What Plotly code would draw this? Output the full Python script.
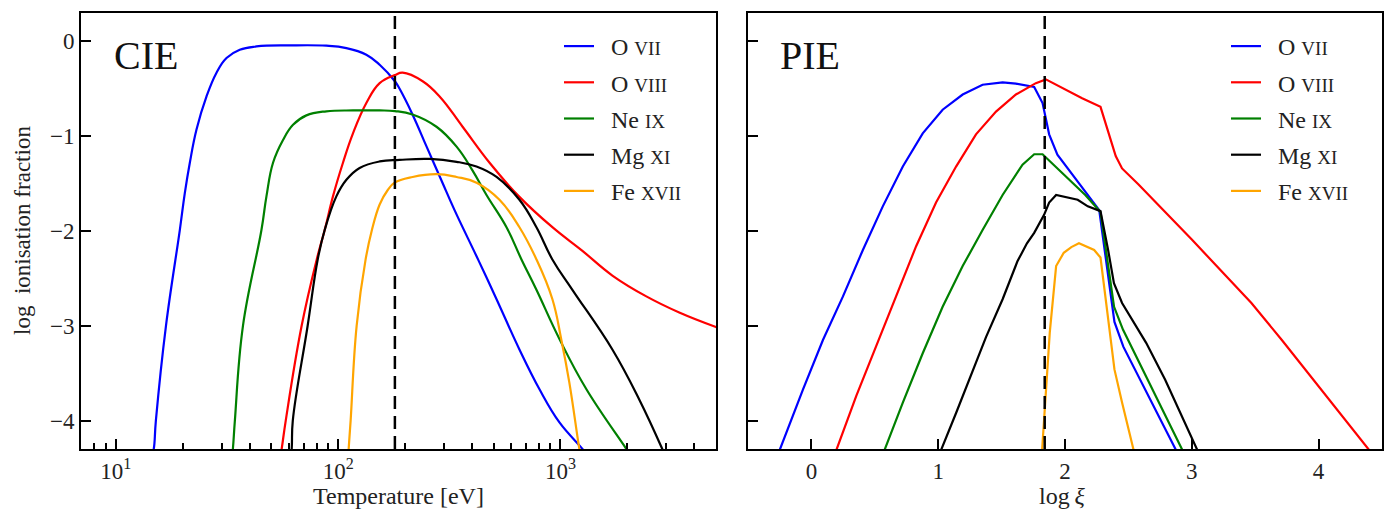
import plotly.graph_objects as go

# ---------------- CIE: ionisation fraction versus temperature ----------------
cie_o7_T = [14.5, 14.8, 15.13, 16.8, 19.39, 20.42, 21.51, 23.05, 25.57, 28.36, 31.45, 36.09, 42.9, 60.5,
            88.5, 108.9, 133.9, 153.7, 180, 189, 216, 250, 292, 334, 428, 516, 654, 805, 990, 1256, 1290]
cie_o7_y = [-4.37, -4.3, -4.0, -3.0, -1.99, -1.6, -1.28, -0.93, -0.58, -0.33, -0.175, -0.088, -0.053, -0.042,
            -0.045, -0.07, -0.14, -0.246, -0.42, -0.50, -0.77, -1.11, -1.47, -1.78, -2.31, -2.72, -3.25,
            -3.67, -4.02, -4.3, -4.34]

cie_o8_T = [54.0, 55.7, 58.1, 68.5, 80.1, 86.98, 94.76, 105.1, 116.6, 133.9, 153.7, 180, 195, 240, 286, 363,
            480, 654, 920, 1256, 1713, 2435, 3425, 4973, 5600]
cie_o8_y = [-4.5, -4.3, -4.0, -3.0, -2.3, -1.99, -1.635, -1.28, -0.97, -0.65, -0.44, -0.355, -0.33, -0.42,
            -0.58, -0.90, -1.28, -1.64, -1.96, -2.21, -2.47, -2.69, -2.86, -3.01, -3.05]

cie_ne9_T = [32.9, 33.6, 34.3, 37.3, 45.17, 47.57, 50.93, 56.48, 62.65, 71.96, 88.5, 116.6, 153.7, 180, 216,
             277, 341, 402, 465, 572, 668, 780, 990, 1309, 1980, 2110]
cie_ne9_y = [-4.5, -4.3, -4.0, -3.0, -1.99, -1.635, -1.28, -1.04, -0.88, -0.78, -0.737, -0.728, -0.728,
             -0.735, -0.77, -0.90, -1.11, -1.36, -1.62, -1.96, -2.30, -2.62, -3.14, -3.67, -4.3, -4.4]

cie_mg11_T = [60.5, 61.8, 62.5, 72.9, 80.9, 86.98, 98.15, 108.9, 124.9, 153.7, 189, 258, 341, 419, 516,
              654, 780, 920, 1132, 1713, 2265, 2873, 2995]
cie_mg11_y = [-4.5, -4.3, -4.0, -3.0, -2.3, -1.99, -1.635, -1.46, -1.335, -1.266, -1.25, -1.24, -1.27,
              -1.32, -1.43, -1.67, -1.96, -2.30, -2.62, -3.25, -3.78, -4.3, -4.4]

cie_fe17_T = [110.9, 111.5, 113.8, 121.1, 132.9, 141.5, 153.7, 166.9, 179.5, 216.2, 277.2, 341.0, 419.4,
              531.9, 654.2, 780.2, 920.4, 1010, 1097, 1217, 1240]
cie_fe17_y = [-4.4, -4.3, -4.0, -3.0, -2.3, -2.0, -1.72, -1.57, -1.49, -1.43, -1.40, -1.43, -1.49, -1.67,
              -1.96, -2.30, -2.72, -3.15, -3.6, -4.3, -4.4]

# ---------------- PIE: ionisation fraction versus log xi ----------------
pie_o7_x = [-0.27, -0.25, -0.066, 0.091, 0.249, 0.406, 0.563, 0.721, 0.878, 1.035, 1.193, 1.35, 1.508,
            1.613, 1.757, 1.823, 1.875, 1.94, 2.27, 2.39, 2.46, 2.87, 2.89]
pie_o7_y = [-4.37, -4.31, -3.67, -3.15, -2.69, -2.20, -1.74, -1.32, -0.97, -0.72, -0.56, -0.457, -0.432,
            -0.446, -0.48, -0.65, -0.98, -1.195, -1.78, -2.96, -3.22, -4.3, -4.35]

pie_o8_x = [0.177, 0.197, 0.354, 0.511, 0.669, 0.826, 0.983, 1.141, 1.298, 1.456, 1.613, 1.770, 1.849,
            2.135, 2.28, 2.335, 2.40, 2.45, 2.58, 3.0, 3.47, 3.71, 4.39, 4.41]
pie_o8_y = [-4.37, -4.31, -3.74, -3.22, -2.69, -2.16, -1.70, -1.32, -0.98, -0.74, -0.56, -0.44, -0.40,
            -0.60, -0.69, -0.92, -1.21, -1.34, -1.51, -2.09, -2.76, -3.15, -4.3, -4.33]

pie_ne9_x = [0.557, 0.577, 0.721, 0.878, 1.035, 1.193, 1.35, 1.508, 1.665, 1.757, 1.823, 1.98, 2.16, 2.28,
             2.387, 2.457, 2.92, 2.94]
pie_ne9_y = [-4.37, -4.31, -3.81, -3.29, -2.80, -2.37, -1.99, -1.62, -1.30, -1.19, -1.19, -1.39, -1.62,
             -1.80, -2.80, -3.04, -4.29, -4.35]

pie_mg11_x = [1.003, 1.023, 1.141, 1.245, 1.377, 1.508, 1.625, 1.70, 1.757, 1.835, 1.875, 1.93, 2.10, 2.18,
              2.28, 2.34, 2.386, 2.45, 2.64, 2.79, 3.0, 3.04, 3.05]
pie_mg11_y = [-4.37, -4.31, -3.92, -3.57, -3.12, -2.72, -2.32, -2.13, -2.02, -1.83, -1.70, -1.62, -1.67,
              -1.74, -1.79, -2.20, -2.55, -2.76, -3.18, -3.57, -4.17, -4.3, -4.33]

pie_fe17_x = [1.815, 1.82, 1.88, 1.93, 1.99, 2.05, 2.11, 2.23, 2.28, 2.33, 2.39, 2.45, 2.54, 2.55]
pie_fe17_y = [-4.37, -4.3, -3.07, -2.37, -2.23, -2.17, -2.13, -2.20, -2.28, -2.80, -3.46, -3.81, -4.3, -4.36]

SC = "<span style='font-size:19px'>{}</span>"
ion_labels = ["O\u00a0" + SC.format("VII"),
              "O\u00a0" + SC.format("VIII"),
              "Ne\u00a0" + SC.format("IX"),
              "Mg\u00a0" + SC.format("XI"),
              "Fe\u00a0" + SC.format("XVII")]
ion_colors = ["#0000ff", "#ff0000", "#008000", "#000000", "#ffa500"]

T_peak_marker = 180.0     # eV, dashed reference line (CIE)
logxi_peak_marker = 1.84  # dashed reference line (PIE)

y_range = [-4.3, 0.3]
y_ticks = [-4, -3, -2, -1, 0]
cie_major = [10, 100, 1000]
cie_major_text = ["10<sup>1</sup>", "10<sup>2</sup>", "10<sup>3</sup>"]
cie_minor = [m * 10 ** k for k in range(0, 4) for m in range(2, 10) if 7 <= m * 10 ** k <= 5000]
pie_ticks = [0, 1, 2, 3, 4]

FONT = "Liberation Serif, Times New Roman, serif"
LW = 2.2

fig = go.Figure()

cie_sets = [(cie_o7_T, cie_o7_y), (cie_o8_T, cie_o8_y), (cie_ne9_T, cie_ne9_y),
            (cie_mg11_T, cie_mg11_y), (cie_fe17_T, cie_fe17_y)]
pie_sets = [(pie_o7_x, pie_o7_y), (pie_o8_x, pie_o8_y), (pie_ne9_x, pie_ne9_y),
            (pie_mg11_x, pie_mg11_y), (pie_fe17_x, pie_fe17_y)]

pad = "\u00a0\u00a0"
for i, (xs, ys) in enumerate(cie_sets):
    fig.add_trace(go.Scatter(x=xs, y=ys, mode="lines", name=pad + ion_labels[i],
                             line=dict(color=ion_colors[i], width=LW, shape="spline", smoothing=1.2),
                             xaxis="x", yaxis="y", legend="legend", legendgroup=f"c{i}"))
for i, (xs, ys) in enumerate(pie_sets):
    fig.add_trace(go.Scatter(x=xs, y=ys, mode="lines", name=pad + ion_labels[i],
                             line=dict(color=ion_colors[i], width=LW),
                             xaxis="x2", yaxis="y2", legend="legend2", legendgroup=f"p{i}"))

W, H = 1390, 511
dom1 = [81 / W, 716 / W]
dom2 = [748 / W, 1382 / W]
ydom = [1 - 449 / H, 1 - 13 / H]

axis_common = dict(showline=True, mirror=True, linecolor="black", linewidth=2, showgrid=False,
                   zeroline=False, ticks="inside", tickcolor="black", tickwidth=1.8,
                   tickfont=dict(family=FONT, size=23, color="#222"))

legend_common = dict(xanchor="left", y=1 - 24 / H, yanchor="top", bgcolor="rgba(0,0,0,0)",
                     font=dict(family=FONT, size=24, color="#222"), tracegroupgap=2, itemwidth=30)

fig.update_layout(
    width=W, height=H, margin=dict(l=0, r=0, t=0, b=0),
    paper_bgcolor="white", plot_bgcolor="white",
    xaxis=dict(domain=dom1, type="log", range=[0.843, 3.70], anchor="y",
               tickmode="array", tickvals=cie_major, ticktext=cie_major_text, ticklen=10,
               minor=dict(tickmode="array", tickvals=cie_minor, ticks="inside", ticklen=6,
                          tickwidth=1.5, tickcolor="black"),
               **axis_common),
    yaxis=dict(domain=ydom, range=y_range, anchor="x", tickmode="array", tickvals=y_ticks,
               ticklen=10, **axis_common),
    xaxis2=dict(domain=dom2, range=[-0.5, 4.5], anchor="y2", tickmode="array", tickvals=pie_ticks,
                ticklen=10, **axis_common),
    yaxis2=dict(domain=ydom, range=y_range, anchor="x2", tickmode="array", tickvals=y_ticks,
                ticklen=10, showticklabels=False, **axis_common),
    legend=dict(x=559 / W, **legend_common),
    legend2=dict(x=1226 / W, **legend_common),
    showlegend=True,
)

# dashed reference lines
fig.add_shape(type="line", xref="x", yref="y domain", x0=T_peak_marker, x1=T_peak_marker, y0=0, y1=1,
              line=dict(color="black", width=2.5, dash="13px,7px"))
fig.add_shape(type="line", xref="x2", yref="y2 domain", x0=logxi_peak_marker, x1=logxi_peak_marker,
              y0=0, y1=1, line=dict(color="black", width=2.5, dash="13px,7px"))

# panel labels and axis titles
fig.add_annotation(text="CIE", xref="paper", yref="paper", x=112 / W, y=1 - 55 / H, xanchor="left",
                   yanchor="middle", showarrow=False, font=dict(family=FONT, size=40, color="#111"))
fig.add_annotation(text="PIE", xref="paper", yref="paper", x=778 / W, y=1 - 55 / H, xanchor="left",
                   yanchor="middle", showarrow=False, font=dict(family=FONT, size=40, color="#111"))
fig.add_annotation(text="Temperature [eV]", xref="paper", yref="paper", x=398.5 / W, y=1 - 496 / H,
                   xanchor="center", yanchor="middle", showarrow=False,
                   font=dict(family=FONT, size=24, color="#222"))
fig.add_annotation(text="log\u2009<i>ξ</i>", xref="paper", yref="paper", x=1062 / W, y=1 - 496 / H,
                   xanchor="center", yanchor="middle", showarrow=False,
                   font=dict(family=FONT, size=24, color="#222"))
fig.add_annotation(text="log\u00a0\u00a0ionisation fraction", xref="paper", yref="paper", x=22 / W,
                   y=1 - 231 / H, xanchor="center", yanchor="middle", textangle=-90, showarrow=False,
                   font=dict(family=FONT, size=23, color="#222"))

fig.write_html("out.html")
